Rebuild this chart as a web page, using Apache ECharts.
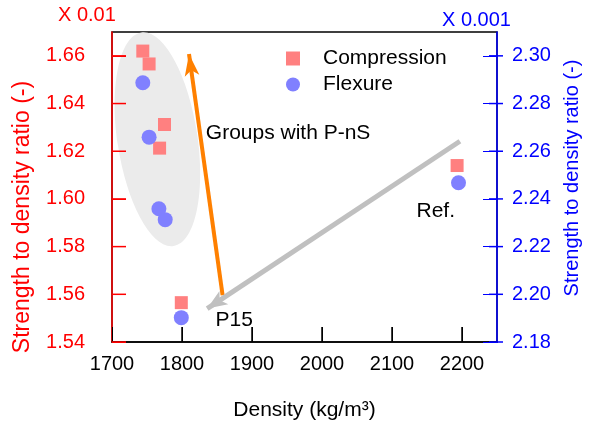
<!DOCTYPE html>
<html>
<head>
<meta charset="utf-8">
<script src="https://cdn.jsdelivr.net/npm/echarts@6/dist/echarts.min.js"></script>
<style>
  html, body { margin: 0; padding: 0; background: #fff; }
  #chart { width: 590px; height: 427px; }
</style>
</head>
<body>
<div id="chart"></div>
<script>
// --- Data ---
const compDensity = [1744, 1753, 1775, 1768, 1799, 2193];
const compRatio = [1.662, 1.6566, 1.6312, 1.6213, 1.5565, 1.614];   // x 0.01
const flexDensity = [1744, 1753, 1767, 1776, 1799, 2195];
const flexRatio = [2.2887, 2.2659, 2.2359, 2.2313, 2.1902, 2.2468]; // x 0.001

const seriesNames = ['Compression', 'Flexure'];

// tick positions (drawn inward)
const xTicks = [1800, 1900, 2000, 2100, 2200];
const leftTicks = [1.54, 1.56, 1.58, 1.60, 1.62, 1.64, 1.66];
const rightTicks = [2.18, 2.20, 2.22, 2.24, 2.26, 2.28, 2.30];

// arrows and notes, in (density, left axis) units
const orangeArrow = [[1858, 1.5596], [1810, 1.6608]];
const grayArrow = [[2197, 1.6242], [1836, 1.554]];
const groupCenter = [1765, 1.625];
const notes = [
    { text: 'Groups with P-nS', at: [1834, 1.6275] },
    { text: 'Ref.', at: [2135, 1.5949] },
    { text: 'P15', at: [1848, 1.5491] }
];

const FONT = '"Liberation Sans", Arial, sans-serif';
const RED = '#ff0000';
const BLUE = '#0000ff';
const GRID = { left: 112, top: 32, width: 391, height: 310 };

const chart = echarts.init(document.getElementById('chart'));

const zip = (xs, ys) => xs.map((x, i) => [x, ys[i]]);

const option = {
    animation: false,
    textStyle: { fontFamily: FONT },
    grid: Object.assign({ show: true, borderColor: '#000', borderWidth: 1.5 }, GRID),
    legend: {
        data: seriesNames, orient: 'vertical', left: 281, top: 43,
        itemWidth: 14, itemHeight: 14, itemGap: 5,
        textStyle: { fontSize: 21, color: '#000', fontFamily: FONT, padding: [0, 0, 0, 18] }
    },
    xAxis: {
        type: 'value', min: 1700, max: 2250, interval: 100,
        name: 'Density (kg/m\u00b3)', nameLocation: 'middle', nameGap: 58,
        nameTextStyle: { fontSize: 21, color: '#000', fontFamily: FONT },
        axisLine: { lineStyle: { color: '#000', width: 1.5 } },
        axisTick: { show: true, inside: true, length: 15 },
        axisLabel: { fontSize: 20, color: '#000', margin: 12, showMaxLabel: false, fontFamily: FONT,
            formatter: v => String(v) },
        splitLine: { show: false }
    },
    yAxis: [{
        type: 'value', position: 'left', min: 1.54, max: 1.67, interval: 0.02,
        name: 'Strength to density ratio (-)', nameLocation: 'middle', nameGap: 78,
        nameTextStyle: { fontSize: 23, color: RED, fontFamily: FONT, padding: [0, 60, 0, 0] },
        axisLine: { show: true, lineStyle: { color: RED, width: 1.5 } },
        axisTick: { show: true, inside: true, length: 14 },
        axisLabel: { fontSize: 20, color: RED, margin: 27, showMaxLabel: false, fontFamily: FONT,
            formatter: v => v.toFixed(2) },
        splitLine: { show: false }
    }, {
        type: 'value', position: 'right', min: 2.18, max: 2.31, interval: 0.02,
        name: 'Strength to density ratio (-)', nameLocation: 'middle', nameGap: 65,
        nameTextStyle: { fontSize: 20, color: BLUE, fontFamily: FONT, padding: [0, 0, 0, 18] },
        axisLine: { show: true, lineStyle: { color: BLUE, width: 1.5 } },
        axisTick: { show: true, inside: true, length: 14 },
        axisLabel: { fontSize: 20, color: BLUE, margin: 15, showMaxLabel: false, fontFamily: FONT,
            formatter: v => v.toFixed(2) },
        splitLine: { show: false }
    }],
    series: [{
        name: seriesNames[0], type: 'scatter', yAxisIndex: 0,
        symbol: 'rect', symbolSize: 13, itemStyle: { color: '#ff8080', opacity: 1 },
        data: zip(compDensity, compRatio),
        markLine: {
            silent: true, animation: false, symbol: ['none', 'arrow'],
            label: { show: false },
            data: [
                [{ coord: orangeArrow[0], symbol: 'none', lineStyle: { color: '#ff8000', width: 4, type: 'solid' } },
                 { coord: orangeArrow[1], symbol: 'arrow', symbolSize: [11, 22] }],
                [{ coord: grayArrow[0], symbol: 'none', lineStyle: { color: '#c0c0c0', width: 5, type: 'solid' } },
                 { coord: grayArrow[1], symbol: 'arrow', symbolSize: [12, 20] }]
            ]
        }
    }, {
        name: seriesNames[1], type: 'scatter', yAxisIndex: 1,
        symbol: 'circle', symbolSize: 15, itemStyle: { color: '#8080ff', opacity: 1 },
        data: zip(flexDensity, flexRatio)
    }]
};

chart.setOption(option);

// --- annotations and inward ticks placed through the axes ---
const toPx = p => chart.convertToPixel({ xAxisIndex: 0, yAxisIndex: 0 }, p);
const toPxR = p => chart.convertToPixel({ xAxisIndex: 0, yAxisIndex: 1 }, p);
const leftX = GRID.left;
const rightX = GRID.left + GRID.width;
const bottomY = GRID.top + GRID.height;

const c = toPx(groupCenter);
const graphics = [{
    type: 'ellipse', x: c[0], y: c[1], rotation: 0.15, z: 0, silent: true,
    shape: { cx: 0, cy: 0, rx: 40, ry: 108 },
    style: { fill: '#ebebeb' }
}];

const tick = (x1, y1, x2, y2, color) => ({
    type: 'line', z: 5,
    shape: { x1: x1, y1: y1, x2: x2, y2: y2 },
    style: { stroke: color, lineWidth: 1.5 }
});
xTicks.forEach(v => {
    const x = toPx([v, 1.6])[0];
    graphics.push(tick(x, bottomY, x, bottomY - 15, '#000'));
});
leftTicks.forEach(v => {
    const y = toPx([2000, v])[1];
    graphics.push(tick(leftX, y, leftX + 14, y, RED));
});
rightTicks.forEach(v => {
    const y = toPxR([2000, v])[1];
    graphics.push(tick(rightX, y, rightX - 14, y, BLUE));
});

notes.forEach(n => {
    const p = toPx(n.at);
    graphics.push({ type: 'text', x: p[0], y: p[1], z: 10,
        style: { text: n.text, fill: '#000', font: '21px ' + FONT, verticalAlign: 'middle' } });
});
graphics.push({ type: 'text', left: 58, top: 5, z: 10,
    style: { text: 'X 0.01', fill: RED, font: '20px ' + FONT } });
graphics.push({ type: 'text', left: 442, top: 10, z: 10,
    style: { text: 'X 0.001', fill: BLUE, font: '20px ' + FONT } });

chart.setOption({ graphic: graphics });
</script>
</body>
</html>
